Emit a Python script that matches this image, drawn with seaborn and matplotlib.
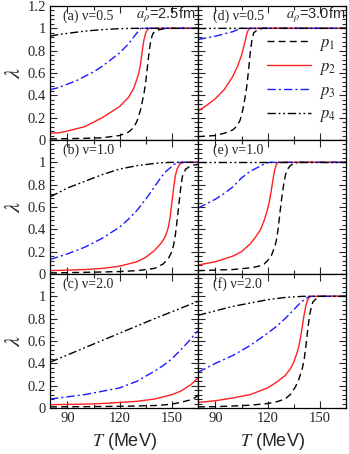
import matplotlib
matplotlib.use("Agg")
import matplotlib.pyplot as plt
import seaborn as sns
import pandas as pd
from matplotlib.ticker import MultipleLocator, FuncFormatter
from matplotlib.lines import Line2D

sns.set_theme(style="ticks")
plt.rcParams['font.family'] = ['Liberation Serif', 'DejaVu Serif']
plt.rcParams['mathtext.fontset'] = 'stix'

# ---------------- data ----------------
panel_labels = ["(a) ν=0.5", "(b) ν=1.0", "(c) ν=2.0", "(d) ν=0.5", "(e) ν=1.0", "(f) ν=2.0"]
radius_labels = {"a": "=2.5fm", "d": "=3.0fm"}
series_names = ["p1", "p2", "p3", "p4"]
legend_labels = ["$p_1$", "$p_2$", "$p_3$", "$p_4$"]
x_ticks = [90, 120, 150]
y_ticks = [0, 0.2, 0.4, 0.6, 0.8, 1.0, 1.2]

# panel (a)
a_p1_T = [80, 90, 100, 110, 120, 125, 128, 130, 132, 134, 135, 136, 137, 138, 139, 140, 142, 145, 150, 165]
a_p1_L = [0.01, 0.012, 0.015, 0.02, 0.04, 0.07, 0.11, 0.17, 0.27, 0.42, 0.52, 0.66, 0.80, 0.90, 0.95, 0.97, 0.985, 0.995, 1.0, 1.0]
a_p2_T = [80, 85, 90, 100, 110, 115, 120, 125, 128, 130, 131, 132, 133, 134, 135, 136, 137, 140, 165]
a_p2_L = [0.06, 0.065, 0.08, 0.12, 0.2, 0.25, 0.3, 0.38, 0.46, 0.55, 0.6, 0.68, 0.8, 0.9, 0.96, 0.99, 1.0, 1.0, 1.0]
a_p3_T = [80, 85, 90, 95, 100, 105, 110, 115, 120, 125, 128, 130, 132, 165]
a_p3_L = [0.45, 0.47, 0.5, 0.53, 0.57, 0.61, 0.66, 0.72, 0.78, 0.86, 0.92, 0.96, 1.0, 1.0]
a_p4_T = [80, 85, 90, 95, 100, 105, 110, 115, 120, 125, 130, 165]
a_p4_L = [0.93, 0.945, 0.955, 0.965, 0.975, 0.982, 0.988, 0.993, 0.997, 0.999, 1.0, 1.0]

# panel (b)
b_p1_T = [80, 90, 100, 110, 120, 130, 140, 145, 148, 150, 151, 152, 153, 154, 155, 156, 157, 158, 160, 162, 165]
b_p1_L = [0.01, 0.012, 0.015, 0.018, 0.022, 0.03, 0.05, 0.09, 0.14, 0.2, 0.26, 0.35, 0.48, 0.62, 0.76, 0.87, 0.91, 0.94, 0.96, 0.975, 0.98]
b_p2_T = [80, 90, 100, 110, 120, 130, 135, 140, 144, 146, 147, 148, 149, 150, 151, 152, 153, 154, 155, 157, 165]
b_p2_L = [0.03, 0.035, 0.04, 0.05, 0.07, 0.11, 0.15, 0.21, 0.28, 0.33, 0.37, 0.42, 0.51, 0.64, 0.77, 0.88, 0.94, 0.97, 0.99, 1.0, 1.0]
b_p3_T = [80, 90, 100, 110, 120, 125, 130, 135, 140, 143, 146, 149, 151, 153, 155, 165]
b_p3_L = [0.13, 0.18, 0.24, 0.32, 0.42, 0.49, 0.57, 0.67, 0.78, 0.85, 0.91, 0.95, 0.98, 0.995, 1.0, 1.0]
b_p4_T = [80, 85, 90, 100, 110, 120, 130, 140, 145, 150, 165]
b_p4_L = [0.69, 0.73, 0.77, 0.83, 0.89, 0.94, 0.97, 0.99, 0.997, 1.0, 1.0]

# panel (c)
c_p1_T = [80, 100, 120, 130, 140, 145, 150, 155, 160, 163, 165]
c_p1_L = [0.01, 0.012, 0.015, 0.018, 0.022, 0.027, 0.035, 0.05, 0.07, 0.09, 0.11]
c_p2_T = [80, 90, 100, 110, 120, 130, 140, 145, 150, 155, 158, 161, 163, 165]
c_p2_L = [0.03, 0.032, 0.035, 0.04, 0.05, 0.06, 0.08, 0.1, 0.12, 0.15, 0.18, 0.21, 0.24, 0.27]
c_p3_T = [80, 90, 100, 110, 120, 130, 140, 145, 150, 155, 158, 161, 163, 165]
c_p3_L = [0.08, 0.1, 0.12, 0.15, 0.18, 0.24, 0.33, 0.38, 0.44, 0.52, 0.57, 0.62, 0.66, 0.69]
c_p4_T = [80, 100, 120, 140, 165]
c_p4_L = [0.41, 0.54, 0.67, 0.80, 0.955]

# panel (d)
d_p1_T = [80, 90, 95, 100, 102, 104, 105, 106, 107, 108, 109, 110, 111, 112, 114, 117, 165]
d_p1_L = [0.03, 0.04, 0.06, 0.09, 0.12, 0.17, 0.22, 0.29, 0.38, 0.48, 0.62, 0.78, 0.9, 0.96, 0.985, 1.0, 1.0]
d_p2_T = [80, 85, 90, 95, 100, 103, 105, 107, 108, 109, 110, 165]
d_p2_L = [0.26, 0.31, 0.37, 0.45, 0.57, 0.67, 0.76, 0.88, 0.95, 0.99, 1.0, 1.0]
d_p3_T = [80, 85, 90, 95, 100, 103, 105, 165]
d_p3_L = [0.90, 0.915, 0.93, 0.95, 0.97, 0.99, 1.0, 1.0]
d_p4_T = [80, 90, 165]
d_p4_L = [0.998, 1.0, 1.0]

# panel (e)
e_p1_T = [80, 90, 100, 110, 115, 118, 120, 122, 124, 125, 126, 127, 128, 129, 130, 131, 133, 135, 138, 165]
e_p1_L = [0.03, 0.035, 0.04, 0.055, 0.07, 0.09, 0.12, 0.16, 0.24, 0.3, 0.4, 0.54, 0.67, 0.78, 0.87, 0.93, 0.97, 0.99, 1.0, 1.0]
e_p2_T = [80, 90, 100, 105, 110, 113, 116, 118, 120, 121, 122, 123, 124, 125, 126, 165]
e_p2_L = [0.08, 0.11, 0.16, 0.2, 0.27, 0.33, 0.4, 0.48, 0.58, 0.65, 0.74, 0.84, 0.93, 0.98, 1.0, 1.0]
e_p3_T = [80, 85, 90, 95, 100, 105, 110, 115, 118, 121, 165]
e_p3_L = [0.59, 0.63, 0.67, 0.72, 0.78, 0.86, 0.92, 0.96, 0.985, 1.0, 1.0]
e_p4_T = [80, 165]
e_p4_L = [1.0, 1.0]

# panel (f)
f_p1_T = [80, 90, 100, 110, 120, 125, 130, 133, 136, 138, 140, 141, 142, 143, 144, 145, 146, 148, 150, 165]
f_p1_L = [0.01, 0.012, 0.018, 0.025, 0.04, 0.055, 0.08, 0.12, 0.19, 0.26, 0.36, 0.44, 0.56, 0.7, 0.82, 0.9, 0.95, 0.98, 1.0, 1.0]
f_p2_T = [80, 90, 100, 110, 120, 125, 130, 133, 135, 137, 138, 139, 140, 141, 142, 143, 144, 145, 165]
f_p2_L = [0.05, 0.065, 0.09, 0.12, 0.18, 0.23, 0.29, 0.35, 0.41, 0.5, 0.56, 0.64, 0.74, 0.84, 0.92, 0.97, 0.99, 1.0, 1.0]
f_p3_T = [80, 90, 100, 110, 120, 125, 130, 135, 138, 141, 144, 165]
f_p3_L = [0.32, 0.4, 0.47, 0.56, 0.67, 0.73, 0.8, 0.88, 0.93, 0.97, 1.0, 1.0]
f_p4_T = [80, 90, 100, 110, 120, 130, 135, 140, 165]
f_p4_L = [0.83, 0.87, 0.91, 0.94, 0.97, 0.99, 0.995, 1.0, 1.0]

panels = {
    "a": [(a_p1_T, a_p1_L), (a_p2_T, a_p2_L), (a_p3_T, a_p3_L), (a_p4_T, a_p4_L)],
    "b": [(b_p1_T, b_p1_L), (b_p2_T, b_p2_L), (b_p3_T, b_p3_L), (b_p4_T, b_p4_L)],
    "c": [(c_p1_T, c_p1_L), (c_p2_T, c_p2_L), (c_p3_T, c_p3_L), (c_p4_T, c_p4_L)],
    "d": [(d_p1_T, d_p1_L), (d_p2_T, d_p2_L), (d_p3_T, d_p3_L), (d_p4_T, d_p4_L)],
    "e": [(e_p1_T, e_p1_L), (e_p2_T, e_p2_L), (e_p3_T, e_p3_L), (e_p4_T, e_p4_L)],
    "f": [(f_p1_T, f_p1_L), (f_p2_T, f_p2_L), (f_p3_T, f_p3_L), (f_p4_T, f_p4_L)],
}

# ---------------- style ----------------
palette = {"p1": "black", "p2": "#ff2020", "p3": "#1a1aff", "p4": "black"}
dashes = {"p1": (5, 3), "p2": "", "p3": (6, 2.2, 1.5, 2.2), "p4": (6, 2, 1.3, 2, 1.3, 2)}

fig = plt.figure(figsize=(3.49, 4.54), dpi=100)
axes = fig.subplots(3, 2)
fig.subplots_adjust(left=50/349, right=346/349, top=1-6/454, bottom=1-408/454,
                    hspace=0, wspace=0)

order = ["a", "b", "c", "d", "e", "f"]
for idx, key in enumerate(order):
    col = idx // 3
    row = idx % 3
    ax = axes[row, col]
    frames = []
    for name, (T, L) in zip(series_names, panels[key]):
        frames.append(pd.DataFrame({"T": T, "lam": L, "curve": name}))
    df = pd.concat(frames, ignore_index=True)
    sns.lineplot(data=df, x="T", y="lam", hue="curve", style="curve",
                 palette=palette, dashes=dashes, linewidth=1.0,
                 legend=False, ax=ax, sort=False, estimator=None)
    ax.set_xlim(80, 165)
    ax.set_ylim(0, 1.2)
    ax.set_xlabel("")
    ax.set_ylabel("")
    ax.set_xticks(x_ticks)
    ax.xaxis.set_minor_locator(MultipleLocator(15))
    ax.set_yticks(y_ticks)
    ax.yaxis.set_minor_locator(MultipleLocator(0.04))
    top_label = (row == 0)
    ax.yaxis.set_major_formatter(FuncFormatter(
        lambda v, p, t=top_label: ("" if (abs(v - 1.2) < 1e-6 and not t) else f"{v:g}")))
    ax.tick_params(which="both", direction="in", top=True, right=True,
                   labelsize=10.5, width=0.8, pad=3)
    ax.tick_params(which="major", length=5)
    ax.tick_params(which="minor", length=2.8)
    for s in ax.spines.values():
        s.set_linewidth(0.9)
        s.set_color("black")
    if col == 1:
        ax.tick_params(labelleft=False)
    else:
        ax.set_ylabel(r"$\lambda$", fontsize=16, labelpad=2)
    if row < 2:
        ax.tick_params(labelbottom=False)
    else:
        ax.set_xlabel("$T$ (MeV)", fontsize=13, family=["Liberation Sans"], labelpad=4)
    ax.text(0.09 if col == 0 else 0.10, 0.925, panel_labels[idx], transform=ax.transAxes,
            ha="left", va="center", fontsize=10)
    if key in radius_labels:
        ax.text(0.985 if col == 0 else 0.995, 0.93, "$a_{\\rho}$" + radius_labels[key],
                transform=ax.transAxes, ha="right", va="center", fontsize=10.5,
                family=["Liberation Sans"])

# legend in panel (d)
ax_d = axes[0, 1]
handles = [Line2D([], [], color=palette[n], linewidth=1.0,
                  linestyle=(0, dashes[n]) if dashes[n] else "-") for n in series_names]
ax_d.legend(handles, legend_labels, loc="center", bbox_to_anchor=(0.7, 0.45),
            frameon=False, fontsize=12, handlelength=2.6, handletextpad=0.5,
            labelspacing=0.35, borderpad=0.2)

fig.savefig("out.png", dpi=100)
